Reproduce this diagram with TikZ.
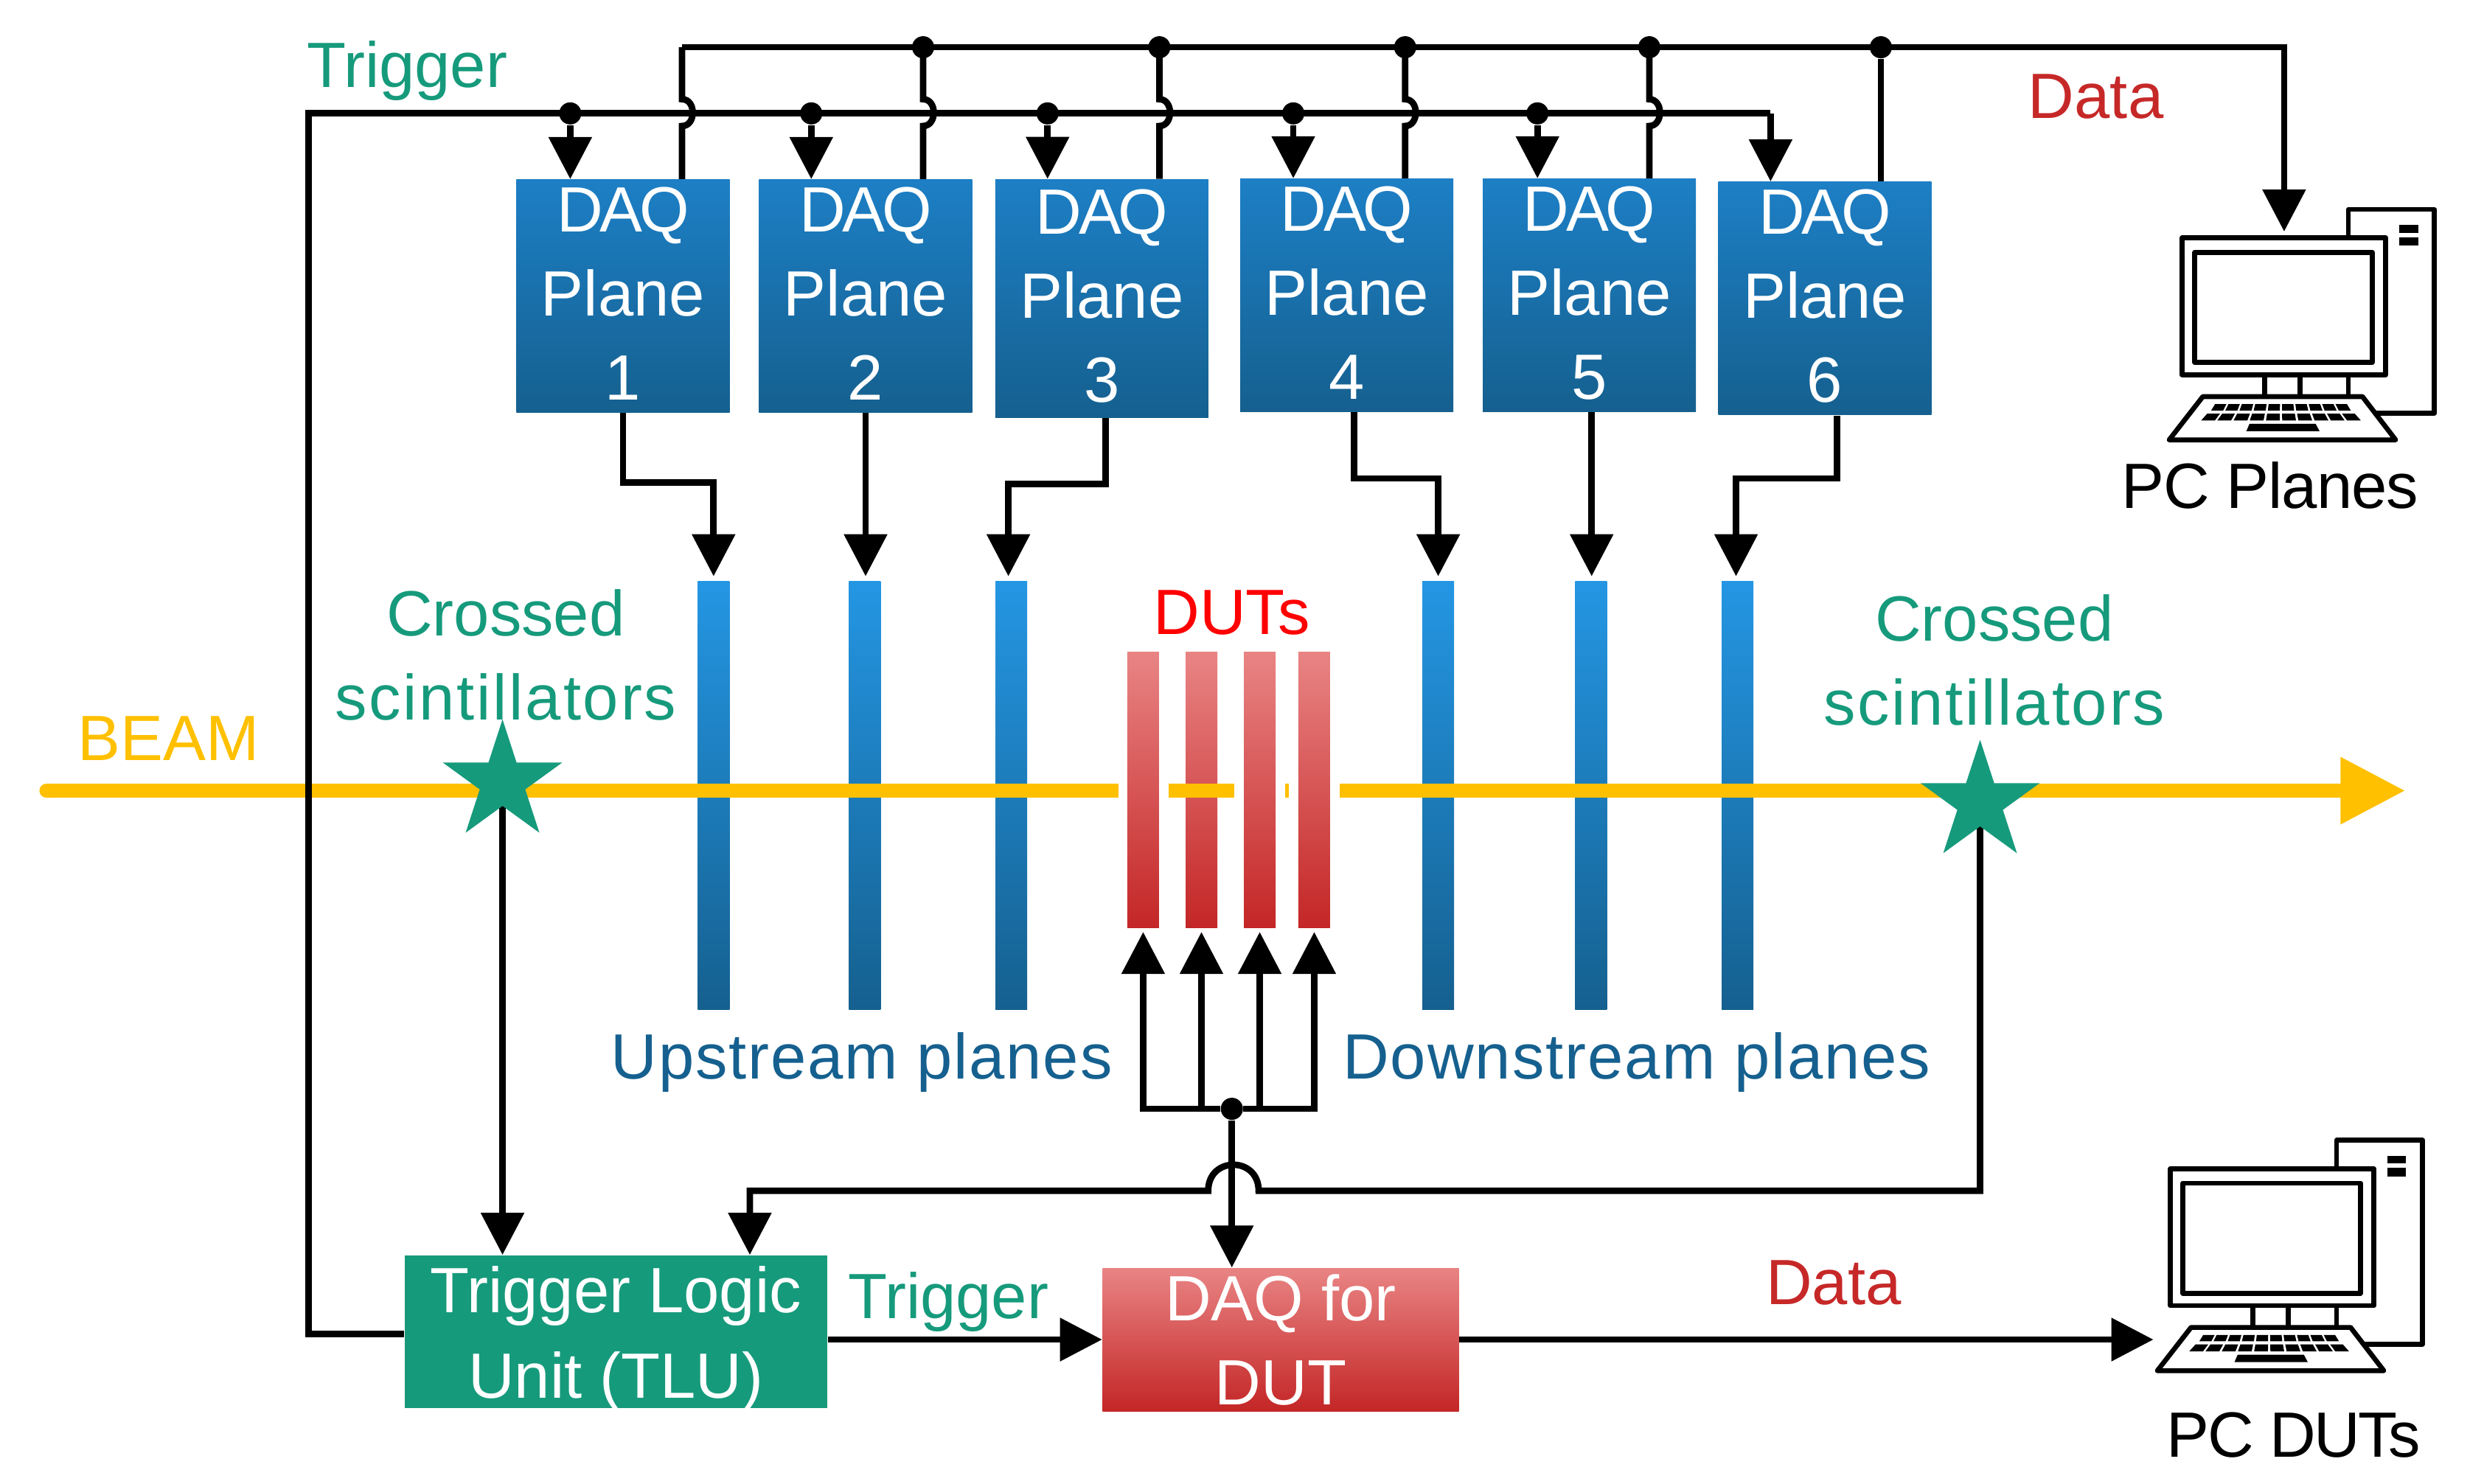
\documentclass[tikz,border=0pt]{standalone}
\usepackage{fontspec}
\setmainfont{Liberation Sans}
\usetikzlibrary{arrows.meta, positioning, shapes.geometric}
\definecolor{trgcolor}{RGB}{22,154,124}
\definecolor{datacolor}{RGB}{198,40,40}
\definecolor{beamcolor}{RGB}{255,192,0}
\definecolor{planecolor}{RGB}{21,96,143}
\definecolor{daqtop}{RGB}{29,127,197}
\definecolor{uptop}{RGB}{36,150,227}
\definecolor{duttop}{RGB}{233,132,132}
\definecolor{dutbot}{RGB}{196,38,38}
\newcommand{\spaced}[2]{{\addfontfeature{LetterSpace=#1}#2}}
\newcommand{\daqtxt}[1]{\spaced{-5}{DAQ}\\Plane\\#1\rule[-0.07cm]{0pt}{0pt}}
\tikzset{
  daqbox/.style={top color=daqtop, bottom color=planecolor, text=white, inner sep=0pt, align=center, minimum width=2.89cm, minimum height=3.16cm},
  trkbar/.style={top color=uptop, bottom color=planecolor, inner sep=0pt, minimum width=0.43cm, minimum height=5.81cm},
  dutbar/.style={top color=duttop, bottom color=dutbot, inner sep=0pt, minimum width=0.43cm, minimum height=3.74cm},
  sigline/.style={line width=2.5pt, black},
  sigarrow/.style={sigline, -{Triangle[length=5.7mm,width=5.7mm]}},
  jdot/.style={circle, fill=black, inner sep=0pt, minimum size=0.3cm},
  starsc/.style={star, star points=5, star point ratio=2.618, fill=trgcolor, inner sep=0pt, minimum size=1.7cm},
  beamline/.style={line width=5.4pt, beamcolor},
  lbl/.style={anchor=base, inner sep=0pt},
  pccomp/.pic={
    \begin{scope}[line width=1.9pt, line join=round]
      \draw (40.8,-43.5) -- (40.8,-61.5) -- (95.4,-61.5) -- (95.4,67.9) -- (58.5,67.9);
      \fill (73,-51.7) rectangle (85,-46.7);
      \fill (73,-44) rectangle (85,-38.6);
      \draw (-64.7,-43.5) rectangle (64.5,43.5);
      \draw (-56.7,-34.3) rectangle (56,35.6);
      \draw (-12.5,43.5) -- (-12.5,56.4);
      \draw (10,43.5) -- (10,56.4);
      \draw (40.8,43.5) -- (40.8,56.4);
      \draw (-51.6,57.3) -- (49.7,57.3) -- (70.8,84.8) -- (-73,84.8) -- cycle;
    \end{scope}
    \foreach \i in {0,...,9}{
      \fill ({(\i/5-.985)*42.5-2},62.1) -- ({(\i/5-.815)*42.5-2},62.1) -- ({(\i/5-.815)*45-2},66.1) -- ({(\i/5-.985)*45-2},66.1) -- cycle;
      \fill ({(\i/5-.985)*47.5-2},68.1) -- ({(\i/5-.815)*47.5-2},68.1) -- ({(\i/5-.815)*51.5-2},72.5) -- ({(\i/5-.985)*51.5-2},72.5) -- cycle;
    }
    \fill (-22,74.6) -- (20,74.6) -- (22.5,79.3) -- (-24,79.3) -- cycle;
    \coordinate (-inp) at (0,-47.5);
    \coordinate (-side) at (-75.5,65);
  }
}

\begin{document}
\begin{tikzpicture}[x=0.021365cm, y=-0.021365cm, every node/.style={font=\fontsize{24.7}{32.4}\selectfont}]
\useasboundingbox (0,0) rectangle (1568,942.2);

% DAQ boxes for the planes
\node[daqbox] (dq1) at (395.5,188) {\daqtxt{1}};
\node[daqbox] (dq2) at (549.5,188) {\daqtxt{2}};
\node[daqbox, minimum height=3.23cm] (dq3) at (699.5,189.5) {\daqtxt{3}};
\node[daqbox] (dq4) at (855,187.5) {\daqtxt{4}};
\node[daqbox] (dq5) at (1009,187.5) {\daqtxt{5}};
\node[daqbox] (dq6) at (1158.5,189.5) {\daqtxt{6}};

% Telescope planes
\node[trkbar] (up1) at (453,505) {};
\node[trkbar] (up2) at (549,505) {};
\node[trkbar] (up3) at (642,505) {};
\node[trkbar] (dn1) at (913,505) {};
\node[trkbar] (dn2) at (1010,505) {};
\node[trkbar] (dn3) at (1103,505) {};

% DUTs
\node[dutbar] (dut1) at (725.7,501.5) {};
\node[dutbar] (dut2) at (762.7,501.5) {};
\node[dutbar] (dut3) at (799.7,501.5) {};
\node[dutbar] (dut4) at (834.3,501.5) {};

% Beam, cut around the DUTs
\coordinate (bm0) at (25,502);
\coordinate (bm1) at (710,502);
\coordinate (bm2) at (742,502);
\coordinate (bm3) at (783.5,502);
\coordinate (bm4) at (816,502);
\coordinate (bm5) at (818,502);
\coordinate (bm6) at (850.5,502);
\coordinate (bm7) at (1527,502);
\draw[beamline, {Round Cap[]}-] (bm0) -- (bm1);
\draw[beamline] (bm2) -- (bm3);
\draw[beamline] (bm4) -- (bm5);
\draw[beamline, -{Triangle[length=8.8mm,width=8.6mm]}] (bm6) -- (bm7);

% Bottom boxes
\node[fill=trgcolor, inner sep=0pt, minimum width=5.73cm, minimum height=2.07cm] (tlu) at (391,845.5) {};
\node[text=white, inner sep=0pt, align=center] (ltlu) at ([yshift=-0.1cm]tlu.center) {Trigger Logic\\[0.02cm]Unit (TLU)};
\node[top color=duttop, bottom color=dutbot, text=white, inner sep=0pt, align=center, minimum width=4.83cm, minimum height=1.94cm] (dqd) at (813,850.5) {DAQ for\\DUT};

% PCs
\pic (pcp) at (1450,194.5) {pccomp};
\pic (pcd) at (1442.5,785.5) {pccomp};

% Trigger bus to the DAQ boxes
\coordinate (tl0) at (196,72);
\coordinate (tl1) at (196,847);
\coordinate (tl6) at (1124,72);
\draw[sigline, line join=miter] (tlu.west |- tl1) -- (tl1) -- (tl0) -- (tl6);
\draw[sigarrow] (tl6) -- (tl6 |- dq6.north);
\foreach \i/\x in {1/362,2/515,3/665,4/821,5/976}{
  \node[jdot] (tj\i) at (\x,72) {};
  \draw[sigarrow] (tj\i) -- (tj\i |- dq\i.north);
}

% Data bus to the PC, hopping over the trigger bus
\coordinate (dt1) at (433,30);
\coordinate (dtend) at (1450,30);
\draw[sigarrow] (dt1) -- (dtend) -- (pcp-inp);
\foreach \i/\x in {1/433,2/586,3/736,4/892,5/1047}{
  \coordinate (dv\i) at (\x,30);
  \draw[sigline] (dv\i |- dq\i.north) -- (\x,80) .. controls (\x+9,80) and (\x+9,63) .. (\x,63) -- (dv\i);
}
\foreach \i/\x in {2/586,3/736,4/892,5/1047,6/1194}{
  \node[jdot] (dj\i) at (\x,30) {};
}
\draw[sigline] (dj6) -- (dj6 |- dq6.north);

% DAQ boxes to planes
\draw[sigarrow, shorten >=0.06cm] (dq1.south) -- ++(0,44) -| (up1.north);
\draw[sigarrow, shorten >=0.06cm] (dq2.south) -- (dq2.south |- up2.north);
\draw[sigarrow, shorten >=0.06cm] ([xshift=0.05cm]dq3.south) -- ++(0,42) -| ([xshift=-0.04cm]up3.north);
\draw[sigarrow, shorten >=0.06cm] ([xshift=0.1cm]dq4.south) -- ++(0,42) -| (dn1.north);
\draw[sigarrow, shorten >=0.06cm] ([xshift=0.03cm]dq5.south) -- ([xshift=0.03cm]dq5.south |- dn2.north);
\draw[sigarrow, shorten >=0.06cm] ([xshift=0.16cm]dq6.south) -- ++(0,40) -| ([xshift=-0.02cm]dn3.north);

% DUT fan-out
\node[jdot] (dj) at (782,704) {};
\draw[sigarrow, shorten >=0.05cm] (dj) -| (dut1.south);
\draw[sigarrow, shorten >=0.05cm] (dj) -| (dut2.south);
\draw[sigarrow, shorten >=0.05cm] (dj) -| (dut3.south);
\draw[sigarrow, shorten >=0.05cm] (dj) -| (dut4.south);
\draw[sigarrow] (dj) -- (dj |- dqd.north);

% Scintillators to TLU
\coordinate (scl) at (319,496.5);
\coordinate (scr) at (1257,509.5);
\coordinate (hp1) at (799,756);
\coordinate (hp2) at (767,756);
\coordinate (tg) at (476,756);
\draw[sigarrow] (scr) -- (scr |- hp1) -- (hp1) .. controls (799,734) and (767,734) .. (hp2) -- (tg) -- (tg |- tlu.north);
\draw[sigarrow] (scl) -- (scl |- tlu.north);
\node[starsc] (stl) at (scl) {};
\node[starsc] (str) at (scr) {};

% TLU to DAQ for DUT and PC
\draw[sigarrow] (tlu.east |- dqd.west) -- (dqd.west);
\draw[sigarrow] (dqd.east) -- (pcd-side);

% Labels
\node[lbl, text=trgcolor] (ltrg) at (258.5,55.5) {Trigger};
\node[lbl, text=datacolor] (ldat) at (1330.5,75) {Data};
\node[lbl] (lpcp) at (1441,322.6) {\spaced{-1.3}{PC Planes}};
\node[lbl, text=red] (lduts) at (782,403) {DUTs};
\node[text=trgcolor, align=center, inner sep=0pt] (lcrl) at (321,416) {Crossed\\\spaced{3.2}{scintillators}};
\node[text=trgcolor, align=center, inner sep=0pt] (lcrr) at (1266,419) {Crossed\\\spaced{3.2}{scintillators}};
\node[lbl, text=beamcolor] (lbm) at (107,483) {BEAM};
\node[lbl, text=planecolor] (lup) at (547,685) {\spaced{2.1}{Upstream planes}};
\node[lbl, text=planecolor] (ldn) at (1039,685) {\spaced{2.3}{Downstream planes}};
\node[lbl, text=trgcolor] (ltr2) at (602,837) {Trigger};
\node[lbl, text=datacolor] (lda2) at (1164,828) {Data};
\node[lbl] (lpcd) at (1456,925) {\spaced{-3}{PC DUTs}};

\end{tikzpicture}
\end{document}
